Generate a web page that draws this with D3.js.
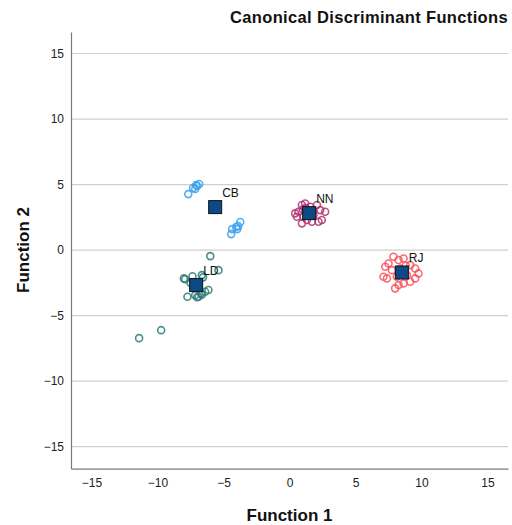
<!DOCTYPE html>
<html><head><meta charset="utf-8">
<script src="https://cdn.jsdelivr.net/npm/d3@7"></script>
<style>body{margin:0;background:#fff}svg{display:block}</style>
</head><body><svg id="c" width="512" height="525"></svg>
<script>
const groups = ["CB","LD","NN","RJ"];
const groupColors = ["#3aa0ee","#2b7a78","#b0306e","#f7505c"];
const xTicks = [-15,-10,-5,0,5,10,15];
const yTicks = [-15,-10,-5,0,5,10,15];
const cbX = [-7.67,-7.30,-7.07,-6.84,-7.14,-6.99,-4.42,-4.34,-4.04,-3.89,-3.73,-3.96];
const cbY = [4.27,4.73,4.96,5.04,4.66,4.89,1.22,1.60,1.76,1.83,2.14,1.60];
const ldX = [-6.00,-5.38,-8.00,-7.90,-6.64,-6.55,-7.73,-7.14,-6.89,-6.64,-6.39,-6.14,-7.50,-7.35,-11.39,-9.72,-6.70,-7.00];
const ldY = [-0.46,-1.53,-2.16,-2.22,-1.91,-2.08,-3.56,-3.44,-3.56,-3.40,-3.18,-3.05,-2.50,-2.00,-6.72,-6.11,-3.30,-3.60];
const nnX = [0.43,0.68,0.94,1.19,1.06,1.32,1.82,2.08,2.33,2.70,2.45,2.20,1.70,0.94,0.56,1.57,1.20,1.40,1.00,1.80];
const nnY = [2.80,2.93,3.44,3.56,2.54,2.29,2.67,3.44,3.05,2.93,2.29,2.16,2.16,2.04,2.54,3.31,3.20,2.90,3.10,3.00];
const rjX = [7.25,7.12,7.38,7.76,7.88,8.26,8.64,9.14,9.52,9.77,9.52,9.14,8.64,8.26,8.00,7.50,8.89,8.13,8.40,8.80];
const rjY = [-1.27,-2.04,-2.16,-1.53,-0.51,-0.76,-0.64,-1.15,-1.40,-1.78,-2.16,-2.42,-2.54,-2.67,-2.92,-1.02,-1.91,-2.04,-1.40,-1.20];
const centroidX = [-5.63,-7.07,1.49,8.51];
const centroidY = [3.28,-2.67,2.82,-1.71];

const svg = d3.select("#c");
const x = d3.scaleLinear().domain([-16.55,16.55]).range([71,508]);
const y = d3.scaleLinear().domain([-16.68,16.64]).range([468.7,32]);
const font = "Liberation Sans, Arial, sans-serif";

// gridlines
svg.append("g").selectAll("line").data(yTicks).join("line")
  .attr("x1",71).attr("x2",508).attr("y1",d=>y(d)).attr("y2",d=>y(d))
  .attr("stroke","#cfcfcf").attr("stroke-width",1.2);

// axes
const yAxis = d3.axisLeft(y).tickValues(yTicks).tickSize(0).tickPadding(7).tickFormat(d3.format("d"));
const gy = svg.append("g").attr("transform","translate(71,0)").call(yAxis);
gy.select(".domain").attr("stroke","#7a7a7a").attr("stroke-width",1.2);
gy.selectAll("text").attr("font-family",font).attr("font-size",12).attr("fill","#222");
const xAxis = d3.axisBottom(x).tickValues(xTicks).tickSize(0).tickPadding(10).tickFormat(d3.format("d"));
const gx = svg.append("g").attr("transform","translate(0,468.7)").call(xAxis);
gx.select(".domain").attr("stroke","#7a7a7a").attr("stroke-width",1.2);
gx.selectAll("text").attr("font-family",font).attr("font-size",12).attr("fill","#222");

// points
const series = [[cbX,cbY],[ldX,ldY],[nnX,nnY],[rjX,rjY]];
series.forEach((s,i)=>{
  const pts = s[0].map((v,j)=>[v,s[1][j]]);
  svg.append("g").selectAll("circle").data(pts).join("circle")
    .attr("cx",d=>x(d[0])).attr("cy",d=>y(d[1])).attr("r",3.5)
    .attr("fill","none").attr("stroke",groupColors[i]).attr("stroke-width",1.6).attr("stroke-opacity",0.85);
});

// centroids
const cents = centroidX.map((v,i)=>[v,centroidY[i],groups[i]]);
svg.append("g").selectAll("rect").data(cents).join("rect")
  .attr("x",d=>x(d[0])-6.5).attr("y",d=>y(d[1])-6.5).attr("width",13).attr("height",13)
  .attr("fill","#0b4a86").attr("stroke","#111").attr("stroke-width",1);
svg.append("g").selectAll("text").data(cents).join("text")
  .attr("x",d=>x(d[0])+7).attr("y",d=>y(d[1])-10)
  .attr("font-family",font).attr("font-size",12).attr("fill","#111").text(d=>d[2]);

// titles
svg.append("text").attr("x",508).attr("y",23).attr("text-anchor","end")
  .attr("font-family",font).attr("font-weight","bold").attr("font-size",16.5)
  .attr("letter-spacing",0.35).attr("fill","#111")
  .text("Canonical Discriminant Functions");
svg.append("text").attr("x",289.5).attr("y",521).attr("text-anchor","middle")
  .attr("font-family",font).attr("font-weight","bold").attr("font-size",17).attr("fill","#111")
  .text("Function 1");
svg.append("text").attr("transform","translate(28.5,250) rotate(-90)").attr("text-anchor","middle")
  .attr("font-family",font).attr("font-weight","bold").attr("font-size",17).attr("fill","#111")
  .text("Function 2");
</script></body></html>
